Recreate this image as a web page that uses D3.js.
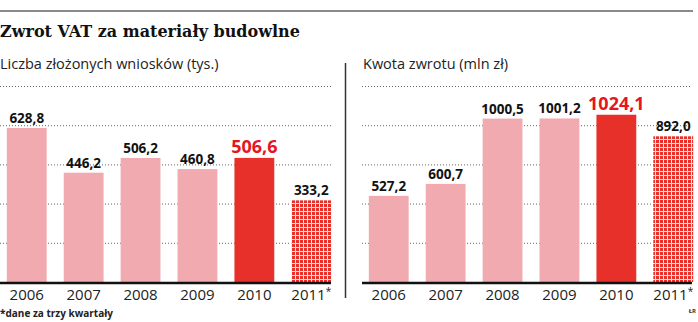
<!DOCTYPE html>
<html>
<head>
<meta charset="utf-8">
<script src="https://cdn.jsdelivr.net/npm/d3@7"></script>
<style>
  body { margin: 0; background: #fff; }
  svg { display: block; }
</style>
</head>
<body>
<div id="chart"></div>
<script>
// data
const years = ["2006", "2007", "2008", "2009", "2010", "2011*"];
const applications = [628.8, 446.2, 506.2, 460.8, 506.6, 333.2];
const refunds = [527.2, 600.7, 1000.5, 1001.2, 1024.1, 892.0];
const highlightYear = "2010";
const partialYear = "2011*";

const width = 698, height = 322;
const baseY = 282, topY = 86;

const svg = d3.select("#chart").append("svg")
    .attr("width", width)
    .attr("height", height);

// hatch pattern for partial year
const defs = svg.append("defs");
const pat = defs.append("pattern")
    .attr("id", "hatch")
    .attr("patternUnits", "userSpaceOnUse")
    .attr("width", 4)
    .attr("height", 4);
pat.append("rect").attr("width", 4).attr("height", 4).attr("fill", "#fde4e4");
pat.append("rect").attr("width", 3).attr("height", 3).attr("fill", "#e8302a");

// header
svg.append("line")
    .attr("x1", 0).attr("x2", 693)
    .attr("y1", 11).attr("y2", 11)
    .attr("stroke", "#8a8a8a").attr("stroke-width", 2);

svg.append("text")
    .attr("x", 0).attr("y", 37)
    .attr("font-family", "DejaVu Serif")
    .attr("font-weight", "bold")
    .attr("font-size", 16)
    .attr("fill", "#111")
    .text("Zwrot VAT za materiały budowlne");

// divider
svg.append("line")
    .attr("x1", 345.5).attr("x2", 345.5)
    .attr("y1", 63).attr("y2", 298)
    .attr("stroke", "#333").attr("stroke-width", 1.5);

function drawPanel(x0, x1, subtitle, values, maxVal) {
    const g = svg.append("g");

    const x = d3.scaleBand()
        .domain(years)
        .range([x0, x0 + 338])
        .paddingInner(0.3)
        .paddingOuter(0.12);

    const y = d3.scaleLinear()
        .domain([0, maxVal])
        .range([baseY, topY]);

    g.append("text")
        .attr("x", x0 === 0 ? 0 : x0 + 1)
        .attr("y", 69)
        .attr("font-family", "Open Sans")
        .attr("font-size", 14.5)
        .attr("fill", "#222")
        .text(subtitle);

    // dotted gridlines
    const ticks = d3.range(1, 6).map(i => i * maxVal / 5);
    g.selectAll(".grid")
        .data(ticks)
        .enter().append("line")
        .attr("class", "grid")
        .attr("x1", x0 === 0 ? 0 : x0)
        .attr("x2", x1)
        .attr("y1", d => y(d) + 0.5)
        .attr("y2", d => y(d) + 0.5)
        .attr("stroke", "#666")
        .attr("stroke-width", 1)
        .attr("stroke-dasharray", "1,2");

    const data = years.map((yr, i) => ({ year: yr, value: values[i] }));

    g.selectAll(".bar")
        .data(data)
        .enter().append("rect")
        .attr("class", "bar")
        .attr("x", d => x(d.year))
        .attr("width", x.bandwidth())
        .attr("y", d => y(d.value))
        .attr("height", d => baseY - y(d.value))
        .attr("fill", d => d.year === highlightYear ? "#e8302a"
            : d.year === partialYear ? "url(#hatch)" : "#f0aab0");

    // axis line
    g.append("line")
        .attr("x1", x0 === 0 ? 0 : x0).attr("x2", x1)
        .attr("y1", baseY + 1).attr("y2", baseY + 1)
        .attr("stroke", "#111").attr("stroke-width", 2.5);

    // value labels
    g.selectAll(".val")
        .data(data)
        .enter().append("text")
        .attr("class", "val")
        .attr("x", d => x(d.year) + x.bandwidth() / 2)
        .attr("y", d => y(d.value) - 5)
        .attr("text-anchor", "middle")
        .attr("font-family", "Open Sans")
        .attr("font-weight", "bold")
        .attr("font-size", d => d.year === highlightYear ? 18 : 13.5)
        .attr("fill", d => d.year === highlightYear ? "#e8141e" : "#111")
        .text(d => d.value.toFixed(1).replace(".", ","));

    // year labels, asterisk as small superscript
    const yl = g.selectAll(".yr")
        .data(data)
        .enter().append("text")
        .attr("class", "yr")
        .attr("x", d => x(d.year) + x.bandwidth() / 2)
        .attr("y", 300)
        .attr("text-anchor", "middle")
        .attr("font-family", "Open Sans")
        .attr("font-size", 15)
        .attr("fill", "#222");
    yl.append("tspan").text(d => d.year.replace("*", ""));
    yl.filter(d => d.year.endsWith("*"))
        .append("tspan")
        .attr("font-size", 10)
        .attr("dy", -5)
        .text("*");
}

drawPanel(0, 331, "Liczba złożonych wniosków (tys.)", applications, 800);
drawPanel(362, 692, "Kwota zwrotu (mln zł)", refunds, 1200);

// footnote
svg.append("text")
    .attr("x", 0).attr("y", 317)
    .attr("font-family", "Open Sans")
    .attr("font-weight", "bold")
    .attr("font-size", 10)
    .attr("fill", "#222")
    .text("*dane za trzy kwartały");

svg.append("text")
    .attr("x", 696).attr("y", 313)
    .attr("text-anchor", "end")
    .attr("font-family", "Open Sans")
    .attr("font-weight", "bold")
    .attr("font-size", 6)
    .attr("fill", "#333")
    .text("ŁR");
</script>
</body>
</html>
